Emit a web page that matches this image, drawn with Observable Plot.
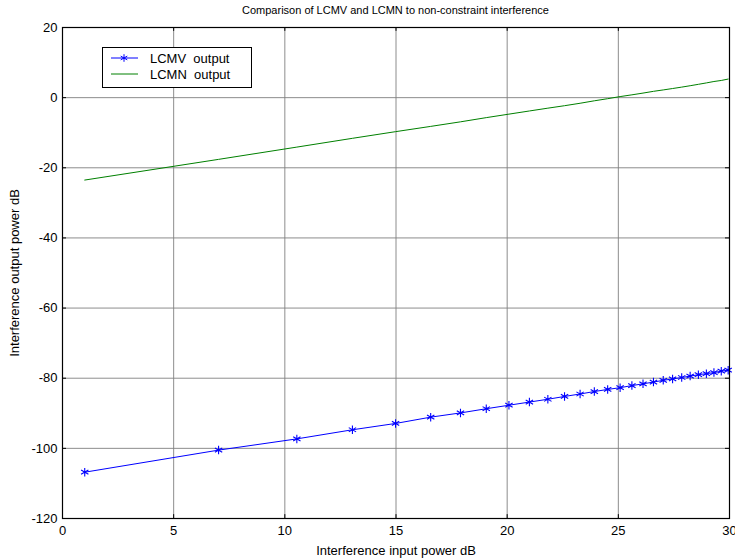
<!DOCTYPE html>
<html>
<head>
<meta charset="utf-8">
<script src="https://cdn.jsdelivr.net/npm/d3@7"></script>
<script src="https://cdn.jsdelivr.net/npm/@observablehq/plot@0.6"></script>
<style>
  html, body { margin: 0; padding: 0; background: white; }
  #wrap { position: relative; width: 735px; height: 560px; font-family: "Liberation Sans", Arial, sans-serif; }
  #title { position: absolute; left: 62px; width: 667px; top: 4px; text-align: center; font-size: 11px; color: #000; }
  #chart { position: absolute; left: 0; top: 20px; }
  #legend { position: absolute; left: 102px; top: 47px; width: 148px; height: 39px; border: 1px solid #000; background: #fff; }
</style>
</head>
<body>
<div id="wrap">
  <div id="title">Comparison of LCMV and LCMN to non-constraint interference</div>
  <div id="chart"></div>
  <div id="legend"></div>
</div>
<script>
// Interference input power (dB)
const inputPower = [1.00, 7.02, 10.54, 13.04, 14.98, 16.56, 17.90, 19.06, 20.08, 21.00,
  21.83, 22.58, 23.28, 23.92, 24.52, 25.08, 25.61, 26.11, 26.58, 27.02,
  27.44, 27.85, 28.23, 28.60, 28.96, 29.30, 29.63, 29.94];
// LCMV output (dB)
const lcmvOutput = [-106.8, -100.5, -97.3, -94.7, -92.9, -91.1, -89.9, -88.7, -87.7, -86.8,
  -86.0, -85.2, -84.5, -83.8, -83.2, -82.7, -82.1, -81.6, -81.1, -80.6,
  -80.2, -79.8, -79.4, -79.0, -78.7, -78.4, -78.0, -77.7];
// LCMN output (dB)
const lcmnOutput = [-23.5, -17.6, -14.1, -11.6, -9.7, -8.2, -6.9, -5.7, -4.7, -3.8,
  -3.0, -2.3, -1.6, -0.9, -0.3, 0.3, 0.8, 1.3, 1.8, 2.2,
  2.6, 3.0, 3.4, 3.8, 4.2, 4.6, 4.9, 5.3];
const xTicks = [0, 5, 10, 15, 20, 25, 30];
const yTicks = [-120, -100, -80, -60, -40, -20, 0, 20];
const seriesNames = ["LCMV  output", "LCMN  output"];
const seriesColors = ["#0000ff", "#008000"];

const lcmvData = inputPower.map((x, i) => ({x, y: lcmvOutput[i]}));
const lcmnData = inputPower.map((x, i) => ({x, y: lcmnOutput[i]}));
const fmt = d => String(d);

const chart = Plot.plot({
  width: 735,
  height: 540,
  marginLeft: 62,
  marginRight: 6,
  marginTop: 7,
  marginBottom: 42,
  style: {fontFamily: "'Liberation Sans', Arial, sans-serif", fontSize: "13px", background: "white", color: "black", overflow: "visible"},
  x: {domain: [0, 30], ticks: xTicks, tickSize: 0, tickPadding: 7, tickFormat: fmt,
      label: "Interference input power dB", labelAnchor: "center", labelOffset: 36, labelArrow: "none"},
  y: {domain: [-120, 20], ticks: yTicks, tickSize: 0, tickPadding: 5, tickFormat: fmt,
      label: "Interference output power dB", labelAnchor: "center", labelOffset: 53, labelArrow: "none"},
  marks: [
    Plot.ruleX(xTicks, {stroke: "#808080", strokeWidth: 0.9}),
    Plot.ruleY(yTicks, {stroke: "#808080", strokeWidth: 0.9}),
    // inward tick marks
    Plot.ruleX(xTicks, {y1: -120, y2: -118.9, stroke: "black"}),
    Plot.ruleX(xTicks, {y1: 20, y2: 18.9, stroke: "black"}),
    Plot.ruleY(yTicks, {x1: 0, x2: 0.18, stroke: "black"}),
    Plot.ruleY(yTicks, {x1: 30, x2: 29.82, stroke: "black"}),
    Plot.line(lcmnData, {x: "x", y: "y", stroke: seriesColors[1], strokeWidth: 1}),
    Plot.line(lcmvData, {x: "x", y: "y", stroke: seriesColors[0], strokeWidth: 1}),
    Plot.dot(lcmvData, {x: "x", y: "y", symbol: "asterisk", r: 4, stroke: seriesColors[0], strokeWidth: 1.1}),
    Plot.frame({stroke: "black", strokeWidth: 1.2})
  ]
});
document.getElementById("chart").appendChild(chart);

// legend
const lg = d3.select("#legend").append("svg").attr("width", 148).attr("height", 39)
  .style("font-family", "'Liberation Sans', Arial, sans-serif").style("font-size", "13px");
seriesNames.forEach((name, i) => {
  const y = 10 + i * 16;
  lg.append("line").attr("x1", 8).attr("x2", 35).attr("y1", y).attr("y2", y)
    .attr("stroke", seriesColors[i]).attr("stroke-width", 1);
  if (i === 0) {
    lg.append("path").attr("d", d3.symbol(d3.symbolAsterisk, 40)()).attr("transform", `translate(21,${y})`)
      .attr("stroke", seriesColors[i]).attr("fill", "none");
  }
  lg.append("text").attr("x", 47).attr("y", y).attr("dy", "0.35em").attr("fill", "black")
    .style("white-space", "pre").attr("xml:space", "preserve").text(name);
});
</script>
</body>
</html>
